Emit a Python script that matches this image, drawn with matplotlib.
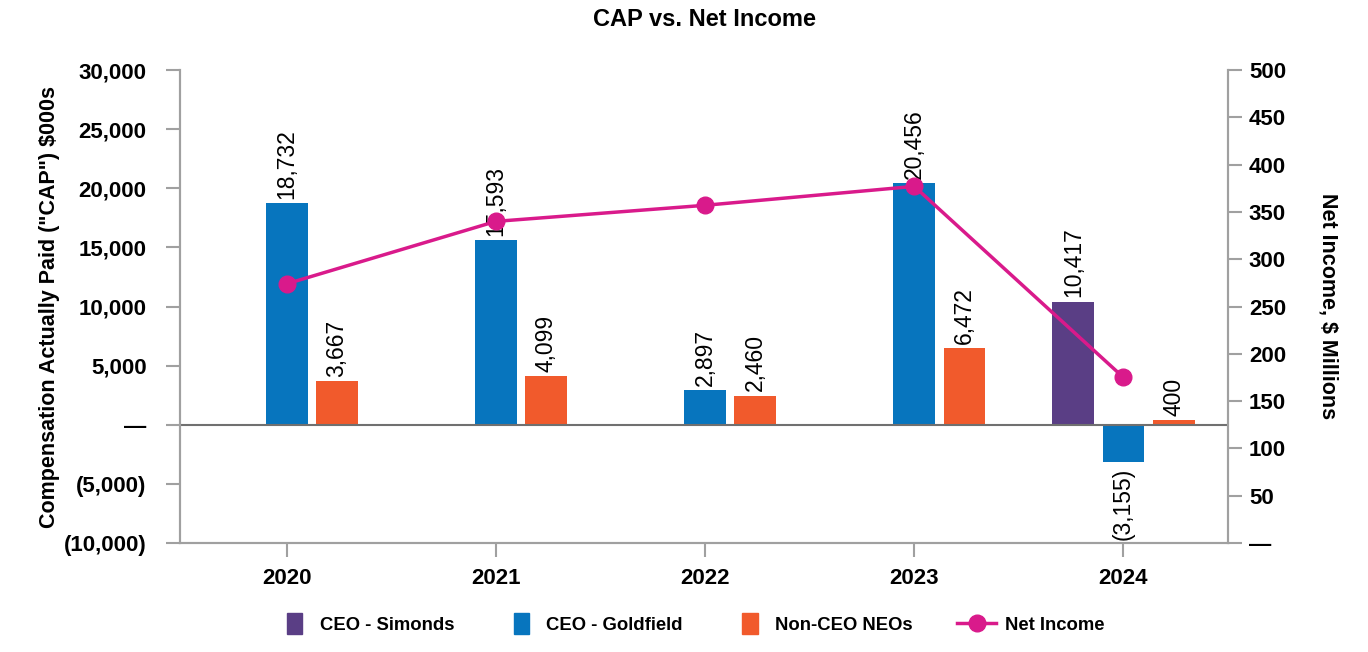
import numpy as np
import matplotlib.pyplot as plt
from matplotlib.ticker import FuncFormatter
from matplotlib.lines import Line2D
from matplotlib.patches import Patch, Rectangle
from matplotlib.legend_handler import HandlerPatch, HandlerLine2D

plt.rcParams['font.family'] = ['Liberation Sans', 'DejaVu Sans']

years = ['2020', '2021', '2022', '2023', '2024']
ceo_simonds = [None, None, None, None, 10417]
ceo_goldfield = [18732, 15593, 2897, 20456, -3155]
non_ceo = [3667, 4099, 2460, 6472, 400]
net_income = [274, 340, 357, 377, 175]

c_purple = '#5a3e85'
c_blue = '#0775be'
c_orange = '#f15a2c'
c_pink = '#d91a8b'
c_grey = '#a0a0a0'

x = np.arange(len(years))
w = 0.2
off = 0.24

fig = plt.figure(figsize=(13.68, 6.52), dpi=100)
ax = fig.add_axes([0.1316, 0.1672, 0.7661, 0.7254])
ax2 = ax.twinx()


def lab(v):
    return f'({abs(v):,})' if v < 0 else f'{v:,}'


def put_labels(xs, vals):
    for xi, v in zip(xs, vals):
        if v is None:
            continue
        if v >= 0:
            ax.annotate(lab(v), (xi, v), xytext=(0, 3), textcoords='offset points',
                        rotation=90, ha='center', va='bottom', fontsize=16.5)
        else:
            ax.annotate(lab(v), (xi, v), xytext=(0, -4), textcoords='offset points',
                        rotation=90, ha='center', va='top', fontsize=16.5)


sx = [xi - off for xi, v in zip(x, ceo_simonds) if v is not None]
sv = [v for v in ceo_simonds if v is not None]
ax.bar(sx, sv, w, color=c_purple, zorder=2)
ax.bar(x, ceo_goldfield, w, color=c_blue, zorder=2)
ax.bar(x + off, non_ceo, w, color=c_orange, zorder=2)
put_labels(sx, sv)
put_labels(x, ceo_goldfield)
put_labels(x + off, non_ceo)

ax.axhline(0, color='#707070', lw=1.5, zorder=3)

ax.set_xlim(-0.51, 4.5)
ax.set_ylim(-10000, 30000)
ax.set_yticks(np.arange(-10000, 30001, 5000))
ax.yaxis.set_major_formatter(FuncFormatter(lambda v, p: '—' if v == 0 else lab(int(v))))
ax.set_xticks(x)
ax.set_xticklabels(years)

ax2.plot(x, net_income, color=c_pink, lw=2.5, marker='o', ms=12, zorder=5)
ax2.set_ylim(0, 500)
ax2.set_yticks(np.arange(0, 501, 50))
ax2.yaxis.set_major_formatter(FuncFormatter(lambda v, p: '—' if v == 0 else f'{int(v)}'))

for a in (ax, ax2):
    a.spines['top'].set_visible(False)
    for s in ['left', 'right', 'bottom']:
        a.spines[s].set_color(c_grey)
        a.spines[s].set_linewidth(1.5)
    a.tick_params(axis='both', colors=c_grey, length=10, width=1.5, labelsize=16,
                  labelcolor='black', pad=8)
    for t in a.get_yticklabels() + a.get_xticklabels():
        t.set_fontweight('bold')
ax.set_zorder(ax2.get_zorder() - 1)
ax2.patch.set_visible(False)
ax.tick_params(axis='y', pad=14)
ax2.tick_params(axis='y', pad=5)

ax.set_ylabel('Compensation Actually Paid ("CAP") $000s', fontsize=15.5, fontweight='bold', labelpad=3)
ax2.set_ylabel('Net Income, $ Millions', fontsize=15.5, fontweight='bold', rotation=270, labelpad=38)
ax.set_title('CAP vs. Net Income', fontsize=17, fontweight='bold', pad=32)


def square(legend, orig_handle, xdescent, ydescent, width, height, fontsize):
    sw = 11
    sh = 15
    return Rectangle((width - sw - 6 - xdescent, (height - sh) / 2 - ydescent), sw, sh)


handles = [Patch(color=c_purple), Patch(color=c_blue), Patch(color=c_orange),
           Line2D([], [], color=c_pink, lw=2.5, marker='o', ms=12)]
labels = ['CEO - Simonds', 'CEO - Goldfield', 'Non-CEO NEOs', 'Net Income']
hm = {h: HandlerPatch(patch_func=square) for h in handles[:3]}
hm[handles[3]] = HandlerLine2D(numpoints=1)
leg = fig.legend(handles, labels, loc='center', bbox_to_anchor=(0.503, 0.041), ncol=4,
                 frameon=False, prop={'weight': 'bold', 'size': 13.3},
                 handler_map=hm, handlelength=2.1, handleheight=0.7,
                 columnspacing=2.4, handletextpad=0.5)

fig.savefig('out.png', dpi=100)
